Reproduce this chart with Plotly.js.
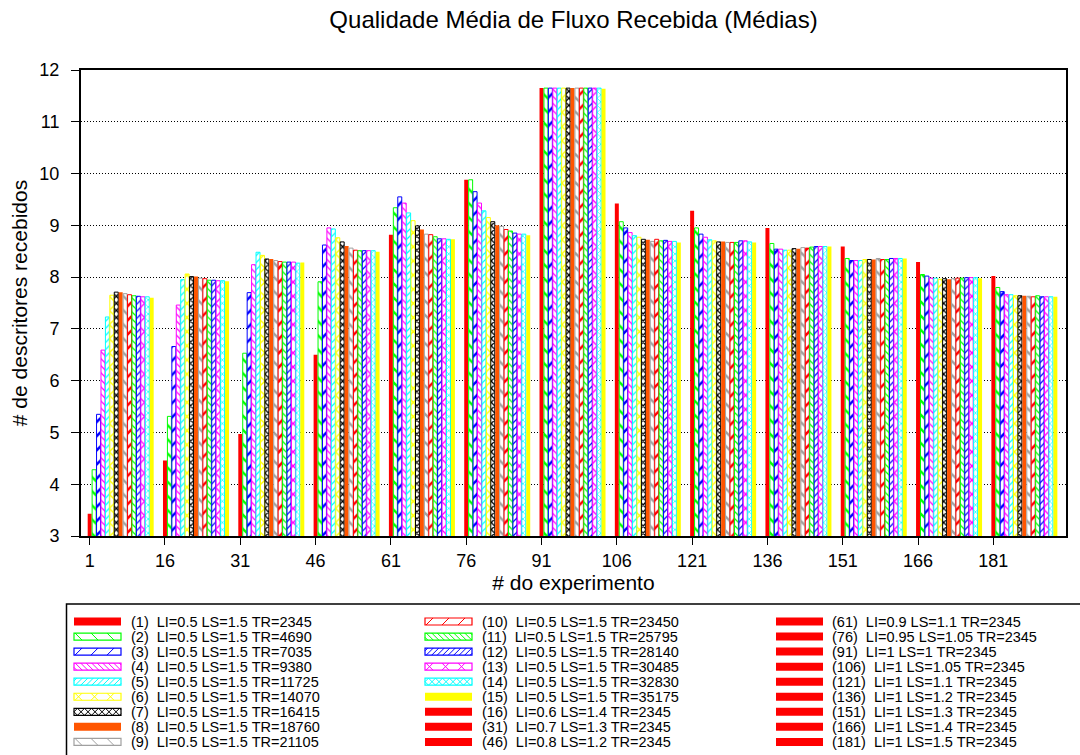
<!DOCTYPE html>
<html><head><meta charset="utf-8">
<script src="https://cdn.plot.ly/plotly-3.0.1.min.js"></script>
<style>html,body{margin:0;padding:0;background:#fff}</style>
</head><body>
<div id="chart" style="width:1080px;height:755px"></div>
<script>
// ---- data ----
const groupLabels = [1, 16, 31, 46, 61, 76, 91, 106, 121, 136, 151, 166, 181];
// first bar of each cluster: experiments 1,16,31,...,181
const s01 = [3.43, 4.46, 4.97, 6.50, 8.82, 9.88, 11.65, 9.42, 9.28, 8.95, 8.59, 8.29, 8.02];
const s02 = [4.28, 5.31, 6.53, 7.91, 9.34, 9.88, 11.65, 9.07, 8.95, 8.65, 8.36, 8.05, 7.80];
const s03 = [5.35, 6.66, 7.70, 8.62, 9.55, 9.65, 11.65, 8.95, 8.83, 8.54, 8.32, 8.02, 7.72];
const s04 = [6.59, 7.46, 8.24, 8.95, 9.43, 9.43, 11.65, 8.86, 8.77, 8.54, 8.32, 7.98, 7.66];
const s05 = [7.23, 7.95, 8.48, 8.93, 9.24, 9.28, 11.65, 8.80, 8.72, 8.52, 8.32, 7.98, 7.66];
const s06 = [7.65, 8.06, 8.42, 8.76, 9.09, 9.15, 11.65, 8.77, 8.70, 8.52, 8.34, 7.96, 7.64];
const s07 = [7.71, 8.01, 8.35, 8.68, 8.99, 9.07, 11.65, 8.73, 8.68, 8.55, 8.34, 7.97, 7.64];
const s08 = [7.71, 8.01, 8.35, 8.60, 8.92, 9.00, 11.65, 8.72, 8.69, 8.55, 8.34, 7.96, 7.64];
const s09 = [7.68, 7.98, 8.32, 8.56, 8.83, 8.98, 11.65, 8.69, 8.67, 8.57, 8.36, 7.97, 7.63];
const s10 = [7.66, 7.97, 8.30, 8.52, 8.82, 8.92, 11.65, 8.73, 8.67, 8.56, 8.34, 7.98, 7.62];
const s11 = [7.64, 7.94, 8.29, 8.51, 8.78, 8.89, 11.65, 8.70, 8.67, 8.58, 8.34, 7.98, 7.64];
const s12 = [7.63, 7.94, 8.29, 8.51, 8.74, 8.85, 11.65, 8.71, 8.70, 8.59, 8.36, 7.99, 7.62];
const s13 = [7.62, 7.93, 8.29, 8.51, 8.74, 8.83, 11.65, 8.69, 8.70, 8.59, 8.36, 7.99, 7.62];
const s14 = [7.62, 7.93, 8.27, 8.51, 8.73, 8.83, 11.65, 8.69, 8.68, 8.59, 8.36, 7.99, 7.62];
const s15 = [7.60, 7.92, 8.28, 8.49, 8.73, 8.81, 11.64, 8.67, 8.67, 8.59, 8.36, 7.98, 7.62];
const seriesValues = [s01, s02, s03, s04, s05, s06, s07, s08, s09, s10, s11, s12, s13, s14, s15];

const seriesNames = [
  "(1)  LI=0.5 LS=1.5 TR=2345", "(2)  LI=0.5 LS=1.5 TR=4690", "(3)  LI=0.5 LS=1.5 TR=7035",
  "(4)  LI=0.5 LS=1.5 TR=9380", "(5)  LI=0.5 LS=1.5 TR=11725", "(6)  LI=0.5 LS=1.5 TR=14070",
  "(7)  LI=0.5 LS=1.5 TR=16415", "(8)  LI=0.5 LS=1.5 TR=18760", "(9)  LI=0.5 LS=1.5 TR=21105",
  "(10)  LI=0.5 LS=1.5 TR=23450", "(11)  LI=0.5 LS=1.5 TR=25795", "(12)  LI=0.5 LS=1.5 TR=28140",
  "(13)  LI=0.5 LS=1.5 TR=30485", "(14)  LI=0.5 LS=1.5 TR=32830", "(15)  LI=0.5 LS=1.5 TR=35175"
];
const extraNames = [
  "(16)  LI=0.6 LS=1.4 TR=2345", "(31)  LI=0.7 LS=1.3 TR=2345", "(46)  LI=0.8 LS=1.2 TR=2345",
  "(61)  LI=0.9 LS=1.1 TR=2345", "(76)  LI=0.95 LS=1.05 TR=2345", "(91)  LI=1 LS=1 TR=2345",
  "(106)  LI=1 LS=1.05 TR=2345", "(121)  LI=1 LS=1.1 TR=2345", "(136)  LI=1 LS=1.2 TR=2345",
  "(151)  LI=1 LS=1.3 TR=2345", "(166)  LI=1 LS=1.4 TR=2345", "(181)  LI=1 LS=1.5 TR=2345"
];

// ---- styles ----
const RED = '#ff0000';
const styles = [
  {c: RED, p: ''},
  {c: '#00ff00', p: '\\', d: 0},
  {c: '#0000ff', p: '/', d: 0},
  {c: '#ff00ff', p: '\\', d: 1},
  {c: '#00ffff', p: '/', d: 1},
  {c: '#ffff00', p: 'x', d: 0},
  {c: '#000000', p: 'x', d: 1},
  {c: '#ff5500', p: ''},
  {c: '#a0a0a0', p: '\\', d: 0},
  {c: RED, p: '/', d: 0},
  {c: '#00ff00', p: '\\', d: 1},
  {c: '#0000ff', p: '/', d: 1},
  {c: '#ff00ff', p: 'x', d: 0},
  {c: '#00ffff', p: 'x', d: 1},
  {c: '#ffff00', p: ''}
];

const CLUSTER = 17; // 15 bars + gap of 2
const FONT = 'Liberation Sans, Arial, sans-serif';

const traces = seriesValues.map((vals, i) => {
  const st = styles[i];
  const marker = st.p === ''
    ? {color: st.c, line: {color: st.c, width: 0}}
    : {color: st.c, line: {color: st.c, width: 1},
       pattern: {shape: st.p, fgcolor: st.c, bgcolor: '#ffffff', fillmode: 'replace',
                 size: st.d ? 5 : 10, solidity: st.c === '#000000' ? 0.45 : 0.25}};
  return {
    type: 'bar',
    name: seriesNames[i],
    x: groupLabels.map((_, g) => g * CLUSTER + i),
    y: vals,
    width: 0.9,
    marker: marker,
    showlegend: false,
    hoverinfo: 'y'
  };
});

// ---- geometry of the plot area (pixels) ----
const W = 1080, H = 755, ML = 81, MR = 14, MT = 70, MB = 219;
const PW = W - ML - MR, PH = H - MT - MB;
const px = x => (x - ML) / PW;
const py = y => (H - MB - y) / PH;

// ---- manual legend (3 columns x 9 rows) ----
const legendEntries = seriesNames.map((n, i) => ({name: n, st: styles[i]}))
  .concat(extraNames.map(n => ({name: n, st: {c: RED, p: ''}})));
const colSwatchX = [74, 425, 776], colTextX = [129, 480, 830];
const rowY0 = 621.5, rowStep = 15.05, swW = 47, swH = 8;

const shapes = [];
const annotations = [];
shapes.push({type: 'rect', xref: 'paper', yref: 'paper', x0: px(66.5), x1: px(1090), y0: py(604), y1: py(765),
  line: {color: '#000', width: 1.5}, fillcolor: 'rgba(0,0,0,0)'});

function hatch(x0, yTop, w, h, dir, s, color) {
  for (let a = x0 - h + s / 2; a < x0 + w; a += s) {
    const t0 = Math.max(0, (x0 - a) / h), t1 = Math.min(1, (x0 + w - a) / h);
    if (t1 <= t0) continue;
    const pt = t => [a + t * h, dir === '\\' ? yTop + t * h : yTop + h - t * h];
    const p0 = pt(t0), p1 = pt(t1);
    shapes.push({type: 'line', xref: 'paper', yref: 'paper', x0: px(p0[0]), y0: py(p0[1]), x1: px(p1[0]), y1: py(p1[1]),
      line: {color: color, width: 1}});
  }
}

legendEntries.forEach((e, k) => {
  const col = Math.floor(k / 9), row = k % 9;
  const yc = rowY0 + row * rowStep;
  const x0 = colSwatchX[col];
  const st = e.st;
  if (st.p === '') {
    shapes.push({type: 'rect', xref: 'paper', yref: 'paper', x0: px(x0), x1: px(x0 + swW), y0: py(yc + swH / 2), y1: py(yc - swH / 2),
      line: {width: 0}, fillcolor: st.c});
  } else {
    shapes.push({type: 'rect', xref: 'paper', yref: 'paper', x0: px(x0), x1: px(x0 + swW), y0: py(yc + swH / 2 - 0.5), y1: py(yc - swH / 2 + 0.5),
      line: {width: 1.2, color: st.c}, fillcolor: '#fff'});
    const s = st.p === 'x' ? (st.d ? 7 : 16) : (st.d ? 5.5 : 16);
    const yT = yc - swH / 2 + 0.5, hh = swH - 1;
    if (st.p === 'x') { hatch(x0, yT, swW, hh, '/', s, st.c); hatch(x0, yT, swW, hh, '\\', s, st.c); }
    else hatch(x0, yT, swW, hh, st.p, s, st.c);
  }
  annotations.push({xref: 'paper', yref: 'paper', x: px(colTextX[col]), y: py(yc), xanchor: 'left', yanchor: 'middle',
    showarrow: false, text: e.name.replace(/  /g, ' \u00a0'), font: {family: FONT, size: 14.5, color: '#000'}});
});

const layout = {
  width: W, height: H,
  margin: {l: ML, r: MR, t: MT, b: MB, pad: 0},
  paper_bgcolor: '#fff', plot_bgcolor: '#fff',
  font: {family: FONT, color: '#000'},
  barmode: 'overlay',
  title: {text: 'Qualidade Média de Fluxo Recebida (Médias)', font: {family: FONT, size: 24, color: '#000'},
          x: 0.5, xref: 'paper', y: 1 - 20 / H, yref: 'container', yanchor: 'middle'},
  xaxis: {
    range: [-1.96, 220.4], tickvals: groupLabels.map((_, g) => g * CLUSTER), ticktext: groupLabels.map(String),
    ticks: 'outside', ticklen: 7, tickwidth: 1, tickcolor: '#000', ticklabelstandoff: 0,
    showline: true, linecolor: '#000', linewidth: 2, mirror: true,
    showgrid: false, zeroline: false, tickfont: {size: 18, family: FONT},
    title: {text: '# do experimento', font: {size: 21, family: FONT}, standoff: 3}
  },
  yaxis: {
    range: [3, 12], tick0: 3, dtick: 1,
    ticks: 'outside', ticklen: 8, tickwidth: 1, tickcolor: '#000', ticklabelstandoff: 8,
    showline: true, linecolor: '#000', linewidth: 2, mirror: true,
    showgrid: true, gridcolor: '#000', griddash: '1px,2px', gridwidth: 1, zeroline: false,
    tickfont: {size: 18, family: FONT},
    title: {text: '# de descritores recebidos', font: {size: 21, family: FONT}, standoff: 6}
  },
  yaxis2: {overlaying: 'y', side: 'right', anchor: 'x', range: [3, 12], tick0: 3, dtick: 1,
    ticks: 'inside', ticklen: 8, tickcolor: '#000', showticklabels: false, showgrid: false, zeroline: false, showline: false},
  shapes: shapes,
  annotations: annotations,
  showlegend: false
};

Plotly.newPlot('chart', traces, layout, {displayModeBar: false, staticPlot: true});
</script>
</body></html>
